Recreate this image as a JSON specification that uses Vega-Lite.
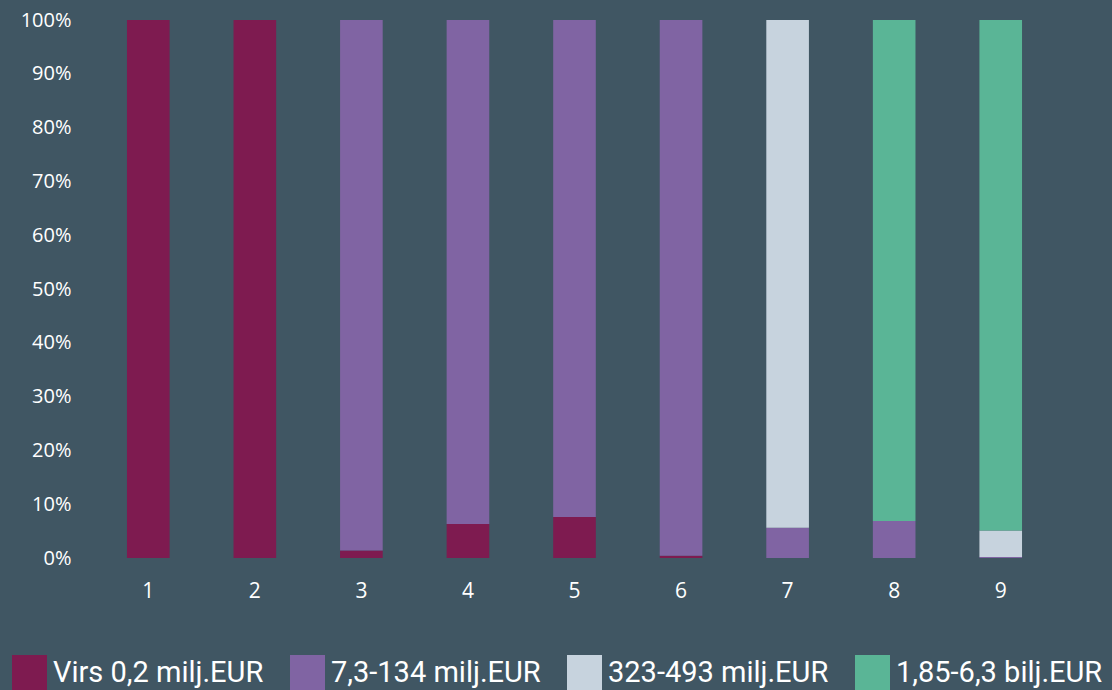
{
  "$schema": "https://vega.github.io/schema/vega-lite/v6.json",
  "autosize": "none",
  "width": 959,
  "height": 538,
  "padding": {"left": 95, "top": 20, "right": 58, "bottom": 132},
  "background": "#405663",
  "config": {"view": {"stroke": null}},
  "data": {
    "values": [
      {"bar": "1", "cat": "Virs 0,2 milj.EUR", "rank": 1, "value": 100},
      {"bar": "2", "cat": "Virs 0,2 milj.EUR", "rank": 1, "value": 100},
      {"bar": "3", "cat": "Virs 0,2 milj.EUR", "rank": 1, "value": 1.4},
      {"bar": "3", "cat": "7,3-134 milj.EUR", "rank": 2, "value": 98.6},
      {"bar": "4", "cat": "Virs 0,2 milj.EUR", "rank": 1, "value": 6.3},
      {"bar": "4", "cat": "7,3-134 milj.EUR", "rank": 2, "value": 93.7},
      {"bar": "5", "cat": "Virs 0,2 milj.EUR", "rank": 1, "value": 7.6},
      {"bar": "5", "cat": "7,3-134 milj.EUR", "rank": 2, "value": 92.4},
      {"bar": "6", "cat": "Virs 0,2 milj.EUR", "rank": 1, "value": 0.4},
      {"bar": "6", "cat": "7,3-134 milj.EUR", "rank": 2, "value": 99.6},
      {"bar": "7", "cat": "7,3-134 milj.EUR", "rank": 2, "value": 5.6},
      {"bar": "7", "cat": "323-493 milj.EUR", "rank": 3, "value": 94.4},
      {"bar": "8", "cat": "7,3-134 milj.EUR", "rank": 2, "value": 6.9},
      {"bar": "8", "cat": "1,85-6,3 bilj.EUR", "rank": 4, "value": 93.1},
      {"bar": "9", "cat": "7,3-134 milj.EUR", "rank": 2, "value": 0.2},
      {"bar": "9", "cat": "323-493 milj.EUR", "rank": 3, "value": 4.9},
      {"bar": "9", "cat": "1,85-6,3 bilj.EUR", "rank": 4, "value": 94.9}
    ]
  },
  "mark": {"type": "bar"},
  "encoding": {
    "x": {
      "field": "bar",
      "type": "nominal",
      "scale": {"paddingInner": 0.6, "paddingOuter": 0.3},
      "axis": {
        "title": null,
        "labelAngle": 0,
        "ticks": false,
        "domain": false,
        "labelColor": "#ffffff",
        "labelFont": "Open Sans",
        "labelFontSize": 21,
        "labelPadding": 22
      }
    },
    "y": {
      "field": "value",
      "type": "quantitative",
      "stack": true,
      "scale": {"domain": [0, 100], "nice": false},
      "axis": {
        "title": null,
        "values": [0, 10, 20, 30, 40, 50, 60, 70, 80, 90, 100],
        "labelExpr": "datum.value + '%'",
        "ticks": false,
        "domain": false,
        "grid": false,
        "labelColor": "#ffffff",
        "labelFont": "Open Sans",
        "labelFontSize": 20,
        "labelPadding": 24
      }
    },
    "color": {
      "field": "cat",
      "type": "nominal",
      "scale": {
        "domain": ["Virs 0,2 milj.EUR", "7,3-134 milj.EUR", "323-493 milj.EUR", "1,85-6,3 bilj.EUR"],
        "range": ["#7E1B50", "#8064A3", "#C7D3DE", "#5AB596"]
      },
      "legend": {
        "title": null,
        "orient": "none",
        "legendX": -83,
        "legendY": 635,
        "direction": "horizontal",
        "columns": 4,
        "padding": 0,
        "symbolType": "square",
        "symbolSize": 1225,
        "symbolStrokeWidth": 0,
        "symbolOpacity": 1,
        "labelColor": "#ffffff",
        "labelFont": "Roboto",
        "labelFontSize": 29,
        "labelOffset": 6,
        "columnPadding": 26,
        "labelLimit": 400
      }
    },
    "order": {"field": "rank", "type": "quantitative"}
  }
}
